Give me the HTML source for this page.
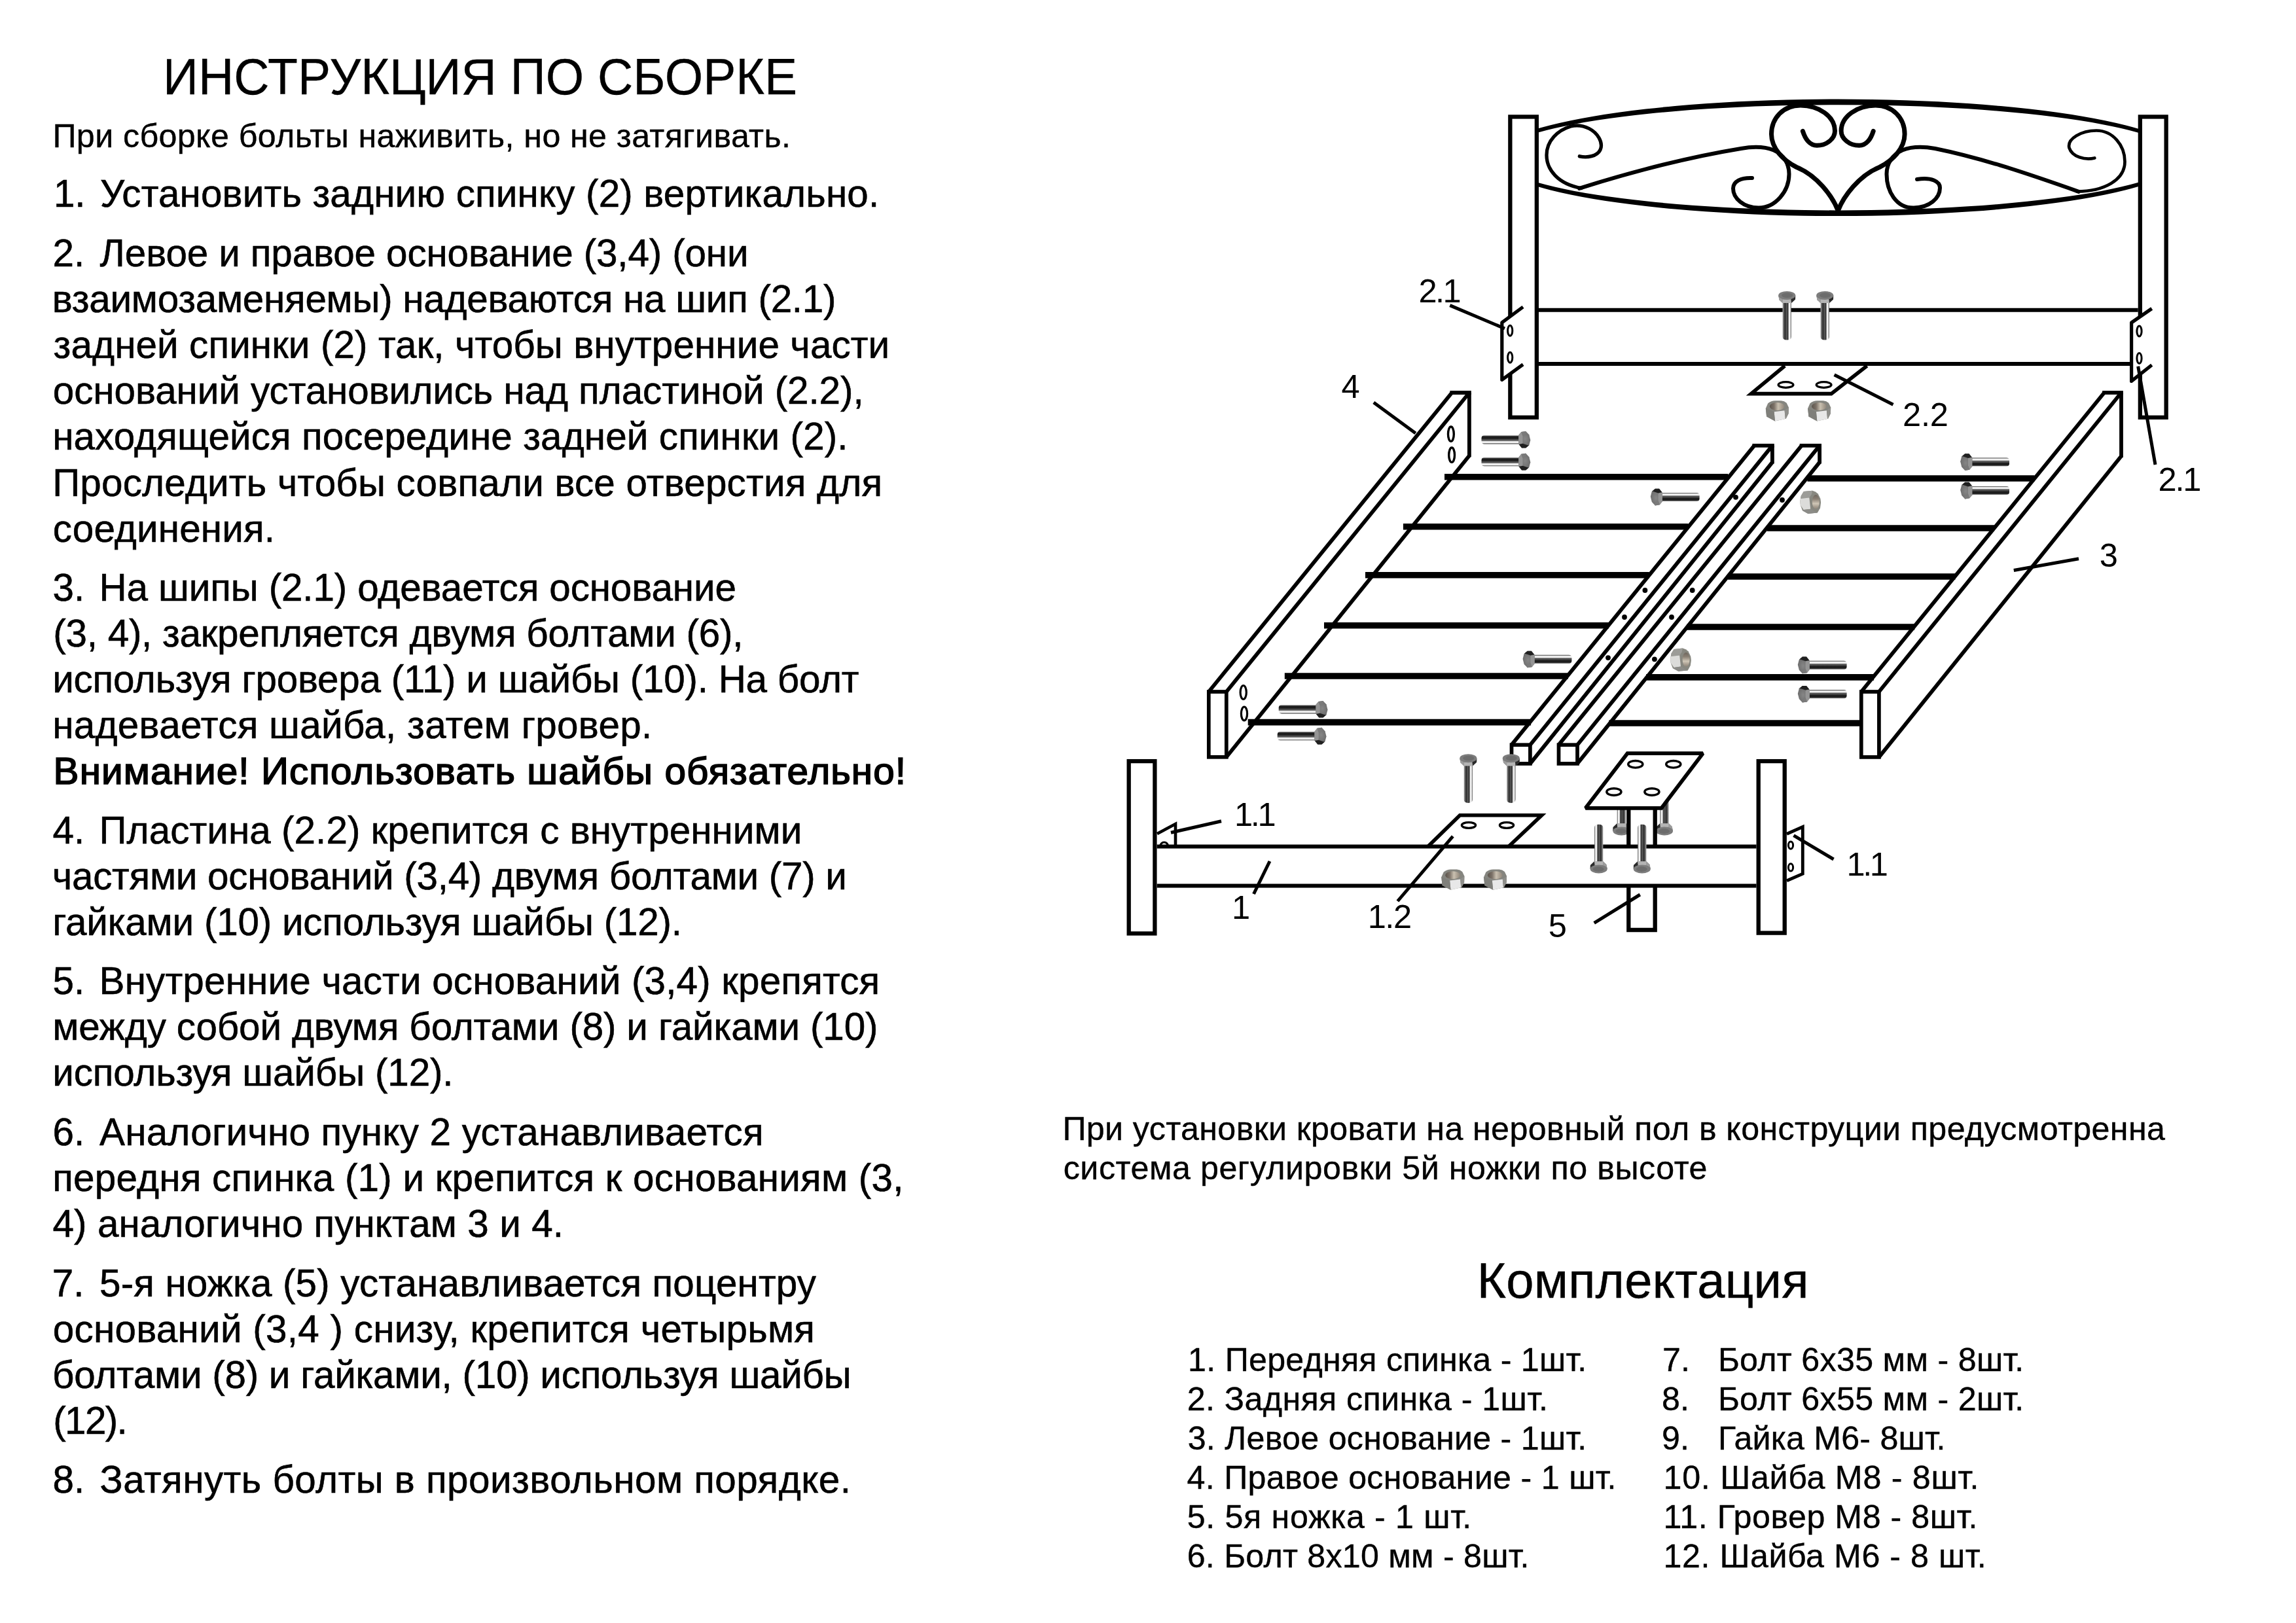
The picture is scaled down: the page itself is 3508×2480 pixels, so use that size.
<!DOCTYPE html>
<html lang="ru"><head><meta charset="utf-8"><title>Инструкция по сборке</title>
<style>
html,body{margin:0;padding:0;background:#fff;}
body{width:3508px;height:2480px;position:relative;overflow:hidden;font-family:"Liberation Sans",sans-serif;color:#000;}
.t{position:absolute;white-space:pre;line-height:1em;height:1em;transform-origin:0 84.66%;}
svg{position:absolute;left:0;top:0;}
</style></head><body>
<svg xmlns="http://www.w3.org/2000/svg" width="3508" height="2480" viewBox="0 0 3508 2480" stroke="#000" fill="none">
<defs>
<linearGradient id="gs" x1="0" y1="0" x2="0" y2="1">
<stop offset="0" stop-color="#a8a8a8"/><stop offset="0.07" stop-color="#5e5e5e"/><stop offset="0.14" stop-color="#1c1c1c"/><stop offset="0.38" stop-color="#1e1e1e"/><stop offset="0.46" stop-color="#4a4a4a"/><stop offset="0.58" stop-color="#525252"/><stop offset="0.65" stop-color="#909090"/><stop offset="0.72" stop-color="#f0f0f0"/><stop offset="0.86" stop-color="#f4f4f4"/><stop offset="0.93" stop-color="#8a8a8a"/><stop offset="1" stop-color="#333"/>
</linearGradient>
<linearGradient id="gv" x1="0" y1="0" x2="1" y2="0">
<stop offset="0" stop-color="#b0b0b0"/><stop offset="0.08" stop-color="#808080"/><stop offset="0.2" stop-color="#444"/><stop offset="0.3" stop-color="#2e2e2e"/><stop offset="0.45" stop-color="#5c5c5c"/><stop offset="0.57" stop-color="#2c2c2c"/><stop offset="0.66" stop-color="#707070"/><stop offset="0.74" stop-color="#f0f0f0"/><stop offset="0.87" stop-color="#f4f4f4"/><stop offset="0.93" stop-color="#999"/><stop offset="1" stop-color="#505050"/>
</linearGradient>
<radialGradient id="gh" cx="0.55" cy="0.45" r="0.6"><stop offset="0" stop-color="#868686"/><stop offset="1" stop-color="#666"/></radialGradient>
<g id="bh" stroke="none">
<path d="M4.5 -6.6H57.5V6.6H4.5Q0 6.6 0 2.2V-2.2Q0 -6.6 4.5 -6.6Z" fill="url(#gs)"/>
<path d="M56.7 -6.7L60.8 -11.85L67.7 -12.9L72.8 -7.5L74.8 0.65L72.8 8.4L67.7 12.7H61.6L56.7 6.7Z" fill="url(#gh)"/>
<path d="M56.7 -6.7L60.8 -11.85L63 -5.5V6L56.7 6.7Z" fill="#949494"/>
<path d="M60.8 -11.85L67.7 -12.9L69 -9.5L63 -5.5Z" fill="#7a7a7a"/>
<path d="M57.3 7.4L63 6L71.3 8.7L72.6 8.6L67.7 12.7H61.6Z" fill="#202020"/>
</g>
<g id="bv" stroke="none">
<path d="M-6.65 16.5H6.65V69.5Q6.65 74.6 0 74.6Q-6.65 74.6 -6.65 69.5Z" fill="url(#gv)"/>
<path d="M-13 6.6L-11.7 13.3L-6.8 18H6.8L12.8 12.4L13 6.6Z" fill="#8a8a8a"/>
<path d="M-6.6 12.6L6.2 12.1L6.8 18H-6.8Z" fill="#b4b4b4"/>
<path d="M-13 6.6L-6.6 12.6L-6.8 18L-11.7 13.3Z" fill="#9c9c9c"/>
<path d="M13 6.2L6.2 12.1L6.8 18L12.8 12.4Z" fill="#2a2a2a"/>
<ellipse cx="0" cy="6.4" rx="13" ry="6.5" fill="#7c7c7c"/>
<ellipse cx="0.5" cy="6.2" rx="8.5" ry="3.8" fill="#6c6c6c"/>
</g>
<linearGradient id="gn" x1="0" y1="0" x2="1" y2="0"><stop offset="0" stop-color="#5c544c"/><stop offset="0.3" stop-color="#7c7268"/><stop offset="0.58" stop-color="#c9c0b0"/><stop offset="0.8" stop-color="#aaa092"/><stop offset="1" stop-color="#8e857a"/></linearGradient>
<g id="nu" stroke="none">
<path d="M-17.5 -4L-14.1 -11.8Q-9 -15.7 -3.3 -15.7H6.1Q11 -15.2 14.4 -12.3L17.6 -5.5L17.3 3.9L13.4 11.7L-3.3 15.4L-16.2 8.6Z" fill="#85857f"/>
<ellipse cx="-0.2" cy="-7.1" rx="11.4" ry="6" fill="url(#gn)"/>
<path d="M-4.7 1.3L11.3 -0.8L12.5 11.9L-3.3 15.4Z" fill="#e8e8e8"/>
<path d="M-17.5 -4L-4.7 1.3L-3.3 15.4L-16.2 8.6Z" fill="#7f7f7a"/>
<path d="M11.3 -0.8L17.6 -5.5L17.3 3.9L13.4 11.7L12.5 11.9Z" fill="#8f8f8b"/>
</g>
<linearGradient id="gn2" x1="0" y1="0" x2="0" y2="1"><stop offset="0" stop-color="#6e655c"/><stop offset="0.3" stop-color="#8a8074"/><stop offset="0.62" stop-color="#cfc6b6"/><stop offset="0.85" stop-color="#a59b8d"/><stop offset="1" stop-color="#8e857a"/></linearGradient>
<g id="ns" stroke="none">
<path d="M-15.9 -1.5L-14.4 -9.6L-10.4 -16.3L3 -17.6Q8 -16.5 11.5 -12.9L15.2 -5.2L15.9 0.7L14.8 8.9L10.7 16.3L-3.7 17.6L-12.2 12.9L-15.3 4.8Z" fill="#87877f"/>
<path d="M-14.4 -9.6L-10.4 -16.3L3 -17.6L1.6 -12L-1.8 -6.7L-15.2 -5.2Z" fill="#9c9c98"/>
<path d="M-15.2 -5.2L-1.8 -6.7L0 10.4L-10.4 11.8L-15.3 4.8L-15.9 -1.5Z" fill="#dcdcda"/>
<path d="M-10.4 11.8L0 10.4L10.7 16.3L-3.7 17.6L-12.2 12.9Z" fill="#8c8c88"/>
<ellipse cx="8.1" cy="-0.4" rx="5.5" ry="10.9" fill="url(#gn2)"/>
</g>
<clipPath id="hbclip"><rect x="2350" y="100" width="918" height="300"/></clipPath>
</defs>
<g id="headboard">
<path d="M2280 240.8A528 89.3 0 1 0 3336 240.8A528 89.3 0 1 0 2280 240.8ZM2287.5 240.8A520.5 80.6 0 1 0 3328.5 240.8A520.5 80.6 0 1 0 2287.5 240.8Z" fill="#000" fill-rule="evenodd" stroke="none" clip-path="url(#hbclip)"/>
<path d="M2413.3 238.8C2425 241.5 2440 239 2445 229C2450 218 2441 203 2428 196.5C2419 192 2410 190.5 2400 193C2380 199 2363 215 2363 237C2363 259 2380 281 2416 287.5" stroke-width="5.3" fill="none" stroke-linecap="round"/>
<path d="M2413 287.8C2495 262 2578 240.5 2660 227C2675 224.3 2695 223.5 2710 229.5C2725 236 2733.5 250 2733.5 266C2733.5 292 2713 317.5 2687 317.5C2664 317.5 2648 303 2648 288C2648 277 2660 271.3 2677 272" stroke-width="6.0" fill="none" stroke-linecap="round"/>
<path d="M2808.3 322C2800 300 2776 268 2745 255.5C2725 245.5 2706.5 227 2706.5 205C2706.5 180 2725 161 2751 161C2779 161 2803.5 178 2803.5 200C2803.5 212 2791 222.3 2776 222.3C2765 222.3 2758 212 2754.4 200.4" stroke-width="7.0" fill="none" stroke-linecap="round"/>
<path d="M 2808.3 322 C 2816.6 300 2840.6 268 2871.6 255.5 C 2891.6 245.5 2910.1 227 2910.1 205 C 2910.1 180 2891.6 161 2865.6 161 C 2837.6 161 2813.1 178 2813.1 200 C 2813.1 212 2825.6 222.3 2840.6 222.3 C 2851.6 222.3 2858.6 212 2862.2 200.4" stroke-width="7.0" fill="none" stroke-linecap="round"/>
<path d="M3176 292.8C3100 266 3030 242 2956.6 227C2941.6 224.3 2921.6 223.5 2906.6 229.5C2891.6 236 2882.5 250 2882.5 266C2882.5 292 2897 318 2924 317.5C2948 317 2964 303 2964 287C2964 277 2951 270.5 2929 274" stroke-width="6.0" fill="none" stroke-linecap="round"/>
<path d="M3200.3 241.5C3186 245 3166 240 3161.5 226C3158 212 3180 199.5 3203 199.5C3228 199.5 3246.5 222 3246.5 247C3246.5 275 3215 292.5 3173 292.5" stroke-width="4.7" fill="none" stroke-linecap="round"/>
<rect x="2307.35" y="178.45" width="40.5" height="459.4" stroke-width="6.3" fill="#fff"/>
<rect x="3269.85" y="178.45" width="39.8" height="459.4" stroke-width="6.3" fill="#fff"/>
<polygon points="2327,469 2294.8,492.8 2294.8,580.3 2327,556.8" fill="#fff" stroke-width="0" stroke-linejoin="miter" stroke="none"/>
<polyline points="2327,469 2294.8,492.8 2294.8,580.3 2327,556.8" fill="none" stroke-width="5.2" stroke-linejoin="round" />
<ellipse cx="2307.2" cy="505.3" rx="3.6" ry="8" fill="none" stroke-width="3.0"/>
<ellipse cx="2307.2" cy="546.3" rx="3.6" ry="8" fill="none" stroke-width="3.0"/>
<polygon points="3287.7,471.5 3256.6,493 3256.6,582.4 3287.7,557.8" fill="#fff" stroke-width="0" stroke-linejoin="miter" stroke="none"/>
<polyline points="3287.7,471.5 3256.6,493 3256.6,582.4 3287.7,557.8" fill="none" stroke-width="5.2" stroke-linejoin="round" />
<ellipse cx="3268.5" cy="506" rx="3.6" ry="8" fill="none" stroke-width="3.0"/>
<ellipse cx="3268.5" cy="547.4" rx="3.6" ry="8" fill="none" stroke-width="3.0"/>
<polyline points="2727,559 2675.5,601.6 2798,601.6 2852.5,559" fill="#fff" stroke-width="5.6" stroke-linejoin="miter" />
<ellipse cx="2728.5" cy="588" rx="11.4" ry="4.3" fill="none" stroke-width="3.3"/>
<ellipse cx="2786.6" cy="588" rx="11.4" ry="4.3" fill="none" stroke-width="3.3"/>
<line x1="2351" y1="473.8" x2="3266.7" y2="473.8" stroke-width="6.0" stroke-linecap="butt" />
<line x1="2351" y1="556" x2="3254" y2="556" stroke-width="6.2" stroke-linecap="butt" />
</g>
<line x1="2215.3" y1="466.6" x2="2299" y2="502" stroke-width="5.0" stroke-linecap="butt" />
<line x1="2802.6" y1="572.8" x2="2892.5" y2="618.2" stroke-width="5.0" stroke-linecap="butt" />
<line x1="3266.7" y1="559.7" x2="3293" y2="710" stroke-width="5.0" stroke-linecap="butt" />
<line x1="2098.8" y1="614.9" x2="2162.8" y2="662" stroke-width="5.0" stroke-linecap="butt" />
<line x1="3176" y1="853.8" x2="3076.8" y2="871.5" stroke-width="5.0" stroke-linecap="butt" />
<line x1="2207" y1="728.8" x2="2640.4" y2="728.8" stroke-width="9.6" stroke-linecap="butt" />
<line x1="2143.9" y1="804.7" x2="2579.4" y2="804.7" stroke-width="9.6" stroke-linecap="butt" />
<line x1="2086" y1="878.8" x2="2519.8" y2="878.8" stroke-width="9.6" stroke-linecap="butt" />
<line x1="2023" y1="955.8" x2="2457.9" y2="955.8" stroke-width="9.6" stroke-linecap="butt" />
<line x1="1962.8" y1="1033" x2="2395.8" y2="1033" stroke-width="9.6" stroke-linecap="butt" />
<line x1="1906.7" y1="1103.6" x2="2339.1" y2="1103.6" stroke-width="9.6" stroke-linecap="butt" />
<line x1="2761.4" y1="731" x2="3108.5" y2="731" stroke-width="9.6" stroke-linecap="butt" />
<line x1="2699.8" y1="807" x2="3047.1" y2="807" stroke-width="9.6" stroke-linecap="butt" />
<line x1="2639.9" y1="881" x2="2987.4" y2="881" stroke-width="9.6" stroke-linecap="butt" />
<line x1="2577.5" y1="958" x2="2925.2" y2="958" stroke-width="9.6" stroke-linecap="butt" />
<line x1="2515.2" y1="1034.9" x2="2863.1" y2="1034.9" stroke-width="9.6" stroke-linecap="butt" />
<line x1="2458.4" y1="1105" x2="2843" y2="1105" stroke-width="9.6" stroke-linecap="butt" />
<line x1="2215.4" y1="600" x2="2247.8" y2="600" stroke-width="5.8" stroke-linecap="butt" /><line x1="2218.3" y1="600" x2="1846.8" y2="1057" stroke-width="5.8" stroke-linecap="butt" /><line x1="2244.9" y1="600" x2="1873.8" y2="1057" stroke-width="5.8" stroke-linecap="butt" /><line x1="2244.9" y1="696.3" x2="1873.8" y2="1156.8" stroke-width="5.8" stroke-linecap="butt" /><line x1="2244.9" y1="600" x2="2244.9" y2="698.3" stroke-width="5.8" stroke-linecap="butt" /><rect x="1846.8" y="1057" width="27" height="99.8" stroke-width="5.7" fill="#fff"/>
<line x1="3212.1" y1="600" x2="3243.9" y2="600" stroke-width="5.8" stroke-linecap="butt" /><line x1="3215" y1="600" x2="2843.8" y2="1057" stroke-width="5.8" stroke-linecap="butt" /><line x1="3241" y1="600" x2="2870.9" y2="1057" stroke-width="5.8" stroke-linecap="butt" /><line x1="3241" y1="697" x2="2870.9" y2="1156.9" stroke-width="5.8" stroke-linecap="butt" /><line x1="3241" y1="600" x2="3241" y2="699" stroke-width="5.8" stroke-linecap="butt" /><rect x="2843.8" y="1057" width="27.1" height="99.9" stroke-width="5.7" fill="#fff"/>
<line x1="2677.4" y1="680.9" x2="2710.8" y2="680.9" stroke-width="5.8" stroke-linecap="butt" /><line x1="2680.3" y1="680.9" x2="2309.5" y2="1138.2" stroke-width="5.8" stroke-linecap="butt" /><line x1="2707.9" y1="680.9" x2="2337.9" y2="1138.2" stroke-width="5.8" stroke-linecap="butt" /><line x1="2707.9" y1="706.4" x2="2337.9" y2="1166.9" stroke-width="5.8" stroke-linecap="butt" /><line x1="2707.9" y1="680.9" x2="2707.9" y2="708.4" stroke-width="5.8" stroke-linecap="butt" /><rect x="2309.5" y="1138.2" width="28.4" height="28.7" stroke-width="5.7" fill="#fff"/>
<line x1="2749.7" y1="680.9" x2="2783" y2="680.9" stroke-width="5.8" stroke-linecap="butt" /><line x1="2752.6" y1="680.9" x2="2381.5" y2="1138.2" stroke-width="5.8" stroke-linecap="butt" /><line x1="2780.1" y1="680.9" x2="2410" y2="1138.2" stroke-width="5.8" stroke-linecap="butt" /><line x1="2780.1" y1="706.4" x2="2410" y2="1166.9" stroke-width="5.8" stroke-linecap="butt" /><line x1="2780.1" y1="680.9" x2="2780.1" y2="708.4" stroke-width="5.8" stroke-linecap="butt" /><rect x="2381.5" y="1138.2" width="28.5" height="28.7" stroke-width="5.7" fill="#fff"/>
<ellipse cx="2216.9" cy="663.2" rx="4.4" ry="11.2" fill="none" stroke-width="3.4"/>
<ellipse cx="2218.1" cy="695.2" rx="4.4" ry="11.2" fill="none" stroke-width="3.4"/>
<ellipse cx="1899.7" cy="1058" rx="4.6" ry="10.5" fill="none" stroke-width="3.2"/>
<ellipse cx="1901" cy="1090.5" rx="4.6" ry="10.5" fill="none" stroke-width="3.2"/>
<circle cx="2652" cy="759.8" r="3.9" fill="#000" stroke="none"/>
<circle cx="2723" cy="764" r="3.9" fill="#000" stroke="none"/>
<circle cx="2513.4" cy="902" r="3.9" fill="#000" stroke="none"/>
<circle cx="2585.7" cy="902" r="3.9" fill="#000" stroke="none"/>
<circle cx="2482" cy="943" r="3.9" fill="#000" stroke="none"/>
<circle cx="2554" cy="943" r="3.9" fill="#000" stroke="none"/>
<circle cx="2457" cy="1005.1" r="3.9" fill="#000" stroke="none"/>
<circle cx="2527.9" cy="1007.3" r="3.9" fill="#000" stroke="none"/>
<polyline points="2181.7,1293.5 2230.5,1245.8 2355.5,1245.8 2305,1293.5" fill="#fff" stroke-width="5.6" stroke-linejoin="miter" />
<ellipse cx="2244" cy="1261" rx="10.6" ry="4.4" fill="none" stroke-width="3.3"/>
<ellipse cx="2302" cy="1261" rx="10.6" ry="4.4" fill="none" stroke-width="3.3"/>
<line x1="1767.7" y1="1293.5" x2="2683.5" y2="1293.5" stroke-width="6.0" stroke-linecap="butt" />
<line x1="1767.7" y1="1353.4" x2="2683.5" y2="1353.4" stroke-width="6.0" stroke-linecap="butt" />
<rect x="1724.7" y="1163.1" width="39.7" height="263.3" stroke-width="6.3" fill="#fff"/>
<rect x="2686.7" y="1163.1" width="40" height="262.5" stroke-width="6.3" fill="#fff"/>
<polyline points="1768,1274 1796,1259 1796,1293" fill="none" stroke-width="4.6" stroke-linejoin="miter" />
<path d="M1772.7 1293A6 6 0 0 1 1784.7 1293" stroke-width="3.2"/>
<polyline points="2730,1274.2 2754.3,1263.5 2754.3,1335.2 2730,1345.8" fill="#fff" stroke-width="4.8" stroke-linejoin="miter" />
<ellipse cx="2736" cy="1291.6" rx="3.6" ry="5.6" fill="none" stroke-width="3.0"/>
<ellipse cx="2736" cy="1325.4" rx="3.6" ry="5.6" fill="none" stroke-width="3.0"/>
<use href="#bv" transform="translate(2477.4 1276.3) scale(-1 -1)"/>
<use href="#bv" transform="translate(2543 1276.3) scale(-1 -1)"/>
<polygon points="2486.5,1151.2 2601.8,1151.2 2538.5,1234.8 2422.5,1234.8" fill="#fff" stroke-width="5.7" stroke-linejoin="miter" stroke-miterlimit="2"/>
<ellipse cx="2498.8" cy="1167.8" rx="11.1" ry="5.3" fill="none" stroke-width="3.4"/>
<ellipse cx="2556.8" cy="1167.8" rx="11.1" ry="5.3" fill="none" stroke-width="3.4"/>
<ellipse cx="2465.9" cy="1210" rx="11.1" ry="5.3" fill="none" stroke-width="3.4"/>
<ellipse cx="2523.9" cy="1210" rx="11.1" ry="5.3" fill="none" stroke-width="3.4"/>
<line x1="2488.3" y1="1236" x2="2488.3" y2="1293.5" stroke-width="6.3" stroke-linecap="butt" />
<line x1="2528.7" y1="1236" x2="2528.7" y2="1293.5" stroke-width="6.3" stroke-linecap="butt" />
<polyline points="2488.3,1353.4 2488.3,1421 2528.7,1421 2528.7,1353.4" fill="none" stroke-width="6.3" stroke-linejoin="miter" />
<line x1="1866" y1="1254.8" x2="1789" y2="1272.3" stroke-width="5.0" stroke-linecap="butt" />
<line x1="2740.5" y1="1276.6" x2="2801.5" y2="1313" stroke-width="5.0" stroke-linecap="butt" />
<line x1="1940" y1="1316" x2="1915.5" y2="1366" stroke-width="5.0" stroke-linecap="butt" />
<line x1="2219.8" y1="1277.8" x2="2135.4" y2="1377" stroke-width="5.0" stroke-linecap="butt" />
<line x1="2505.8" y1="1367" x2="2435.7" y2="1410.4" stroke-width="5.0" stroke-linecap="butt" />
<use href="#bh" transform="translate(2263.5 671.8)"/>
<use href="#bh" transform="translate(2263.5 705.7)"/>
<use href="#bh" transform="translate(1953.7 1083.8)"/>
<use href="#bh" transform="translate(1951.7 1124.7)"/>
<use href="#bh" transform="translate(2596.6 759.5) scale(-1 -1)"/>
<use href="#bh" transform="translate(3070 706) scale(-1 -1)"/>
<use href="#bh" transform="translate(3070 749.5) scale(-1 -1)"/>
<use href="#bh" transform="translate(2401.4 1007.4) scale(-1 -1)"/>
<use href="#bh" transform="translate(2821.6 1016.3) scale(-1 -1)"/>
<use href="#bh" transform="translate(2821.6 1060.6) scale(-1 -1)"/>
<use href="#bv" transform="translate(2730.2 445)"/>
<use href="#bv" transform="translate(2788.2 445)"/>
<use href="#bv" transform="translate(2243.3 1152.3)"/>
<use href="#bv" transform="translate(2308.8 1152.3)"/>
<use href="#bv" transform="translate(2442.7 1334.3) scale(-1 -1)"/>
<use href="#bv" transform="translate(2508.8 1334.3) scale(-1 -1)"/>
<use href="#nu" transform="translate(2715.3 628)"/>
<use href="#nu" transform="translate(2779.6 628)"/>
<use href="#nu" transform="translate(2219.8 1344.3)"/>
<use href="#nu" transform="translate(2284.5 1344.3)"/>
<use href="#ns" transform="translate(2766.2 767.3)"/>
<use href="#ns" transform="translate(2568 1008.2)"/>
</svg>
<div class="t" style="left:249.10px;top:81.42px;font-size:75.1px;letter-spacing:0.028px;-webkit-text-stroke:0.3px #000;transform:scaleY(1.038);">ИНСТРУКЦИЯ ПО СБОРКЕ</div>
<div class="t" style="left:80.40px;top:183.20px;font-size:50.2px;letter-spacing:0.388px;-webkit-text-stroke:0.4px #000;">При сборке больты наживить, но не затягивать.</div>
<div class="t" style="left:81.90px;top:267.16px;font-size:58.4px;letter-spacing:0.000px;-webkit-text-stroke:0.6px #000;">1.</div>
<div class="t" style="left:153.00px;top:267.16px;font-size:58.4px;letter-spacing:0.156px;-webkit-text-stroke:0.6px #000;">Установить заднию спинку (2) вертикально.</div>
<div class="t" style="left:80.50px;top:358.26px;font-size:58.4px;letter-spacing:0.000px;-webkit-text-stroke:0.6px #000;">2.</div>
<div class="t" style="left:152.60px;top:358.26px;font-size:58.4px;letter-spacing:-0.121px;-webkit-text-stroke:0.6px #000;">Левое и правое основание (3,4) (они</div>
<div class="t" style="left:79.70px;top:428.31px;font-size:58.4px;letter-spacing:-0.268px;-webkit-text-stroke:0.6px #000;">взаимозаменяемы) надеваются на шип (2.1)</div>
<div class="t" style="left:81.50px;top:498.36px;font-size:58.4px;letter-spacing:0.105px;-webkit-text-stroke:0.6px #000;">задней спинки (2) так, чтобы внутренние части</div>
<div class="t" style="left:80.80px;top:568.41px;font-size:58.4px;letter-spacing:-0.068px;-webkit-text-stroke:0.6px #000;">оснований установились над пластиной (2.2),</div>
<div class="t" style="left:80.20px;top:638.46px;font-size:58.4px;letter-spacing:0.102px;-webkit-text-stroke:0.6px #000;">находящейся посередине задней спинки (2).</div>
<div class="t" style="left:80.20px;top:708.51px;font-size:58.4px;letter-spacing:0.191px;-webkit-text-stroke:0.6px #000;">Проследить чтобы совпали все отверстия для</div>
<div class="t" style="left:80.80px;top:778.56px;font-size:58.4px;letter-spacing:0.160px;-webkit-text-stroke:0.6px #000;">соединения.</div>
<div class="t" style="left:80.50px;top:869.06px;font-size:58.4px;letter-spacing:0.000px;-webkit-text-stroke:0.6px #000;">3.</div>
<div class="t" style="left:151.50px;top:869.06px;font-size:58.4px;letter-spacing:-0.120px;-webkit-text-stroke:0.6px #000;">На шипы (2.1) одевается основание</div>
<div class="t" style="left:81.30px;top:939.11px;font-size:58.4px;letter-spacing:-0.249px;-webkit-text-stroke:0.6px #000;">(3, 4), закрепляется двумя болтами (6),</div>
<div class="t" style="left:80.20px;top:1009.16px;font-size:58.4px;letter-spacing:-0.238px;-webkit-text-stroke:0.6px #000;">используя гровера (11) и шайбы (10). На болт</div>
<div class="t" style="left:80.20px;top:1079.21px;font-size:58.4px;letter-spacing:0.288px;-webkit-text-stroke:0.6px #000;">надевается шайба, затем гровер.</div>
<div class="t" style="left:81.60px;top:1149.26px;font-size:58.4px;letter-spacing:1.109px;-webkit-text-stroke:1.7px #000;transform:scaleY(0.975);">Внимание! Использовать шайбы обязательно!</div>
<div class="t" style="left:80.50px;top:1239.76px;font-size:58.4px;letter-spacing:0.000px;-webkit-text-stroke:0.6px #000;">4.</div>
<div class="t" style="left:151.50px;top:1239.76px;font-size:58.4px;letter-spacing:0.062px;-webkit-text-stroke:0.6px #000;">Пластина (2.2) крепится с внутренними</div>
<div class="t" style="left:79.80px;top:1309.81px;font-size:58.4px;letter-spacing:-0.269px;-webkit-text-stroke:0.6px #000;">частями оснований (3,4) двумя болтами (7) и</div>
<div class="t" style="left:80.20px;top:1379.86px;font-size:58.4px;letter-spacing:-0.208px;-webkit-text-stroke:0.6px #000;">гайками (10) используя шайбы (12).</div>
<div class="t" style="left:80.50px;top:1470.36px;font-size:58.4px;letter-spacing:0.000px;-webkit-text-stroke:0.6px #000;">5.</div>
<div class="t" style="left:151.50px;top:1470.36px;font-size:58.4px;letter-spacing:0.183px;-webkit-text-stroke:0.6px #000;">Внутренние части оснований (3,4) крепятся</div>
<div class="t" style="left:80.20px;top:1540.41px;font-size:58.4px;letter-spacing:-0.153px;-webkit-text-stroke:0.6px #000;">между собой двумя болтами (8) и гайками (10)</div>
<div class="t" style="left:80.20px;top:1610.46px;font-size:58.4px;letter-spacing:-0.146px;-webkit-text-stroke:0.6px #000;">используя шайбы (12).</div>
<div class="t" style="left:80.50px;top:1700.96px;font-size:58.4px;letter-spacing:0.000px;-webkit-text-stroke:0.6px #000;">6.</div>
<div class="t" style="left:152.00px;top:1700.96px;font-size:58.4px;letter-spacing:0.222px;-webkit-text-stroke:0.6px #000;">Аналогично пунку 2 устанавливается</div>
<div class="t" style="left:80.20px;top:1771.01px;font-size:58.4px;letter-spacing:0.241px;-webkit-text-stroke:0.6px #000;">передня спинка (1) и крепится к основаниям (3,</div>
<div class="t" style="left:80.50px;top:1841.06px;font-size:58.4px;letter-spacing:0.085px;-webkit-text-stroke:0.6px #000;">4) аналогично пунктам 3 и 4.</div>
<div class="t" style="left:79.80px;top:1931.56px;font-size:58.4px;letter-spacing:0.000px;-webkit-text-stroke:0.6px #000;">7.</div>
<div class="t" style="left:152.00px;top:1931.56px;font-size:58.4px;letter-spacing:0.156px;-webkit-text-stroke:0.6px #000;">5-я ножка (5) устанавливается поцентру</div>
<div class="t" style="left:80.80px;top:2001.61px;font-size:58.4px;letter-spacing:0.263px;-webkit-text-stroke:0.6px #000;">оснований (3,4 ) снизу, крепится четырьмя</div>
<div class="t" style="left:80.00px;top:2071.66px;font-size:58.4px;letter-spacing:-0.251px;-webkit-text-stroke:0.6px #000;">болтами (8) и гайками, (10) используя шайбы</div>
<div class="t" style="left:81.30px;top:2141.71px;font-size:58.4px;letter-spacing:-1.659px;-webkit-text-stroke:0.6px #000;">(12).</div>
<div class="t" style="left:80.50px;top:2232.36px;font-size:58.4px;letter-spacing:0.000px;-webkit-text-stroke:0.6px #000;">8.</div>
<div class="t" style="left:152.50px;top:2232.36px;font-size:58.4px;letter-spacing:0.470px;-webkit-text-stroke:0.6px #000;">Затянуть болты в произвольном порядке.</div>
<div class="t" style="left:1623.40px;top:1700.20px;font-size:50.2px;letter-spacing:0.371px;-webkit-text-stroke:0.4px #000;">При установки кровати на неровный пол в конструции предусмотренна</div>
<div class="t" style="left:1624.70px;top:1760.30px;font-size:50.2px;letter-spacing:0.541px;-webkit-text-stroke:0.4px #000;">система регулировки 5й ножки по высоте</div>
<div class="t" style="left:2256.70px;top:1918.66px;font-size:76px;letter-spacing:0.240px;-webkit-text-stroke:0.4px #000;">Комплектация</div>
<div class="t" style="left:1815.10px;top:2053.10px;font-size:50.2px;letter-spacing:0.255px;-webkit-text-stroke:0.4px #000;">1. Передняя спинка - 1шт.</div>
<div class="t" style="left:1813.70px;top:2113.10px;font-size:50.2px;letter-spacing:0.399px;-webkit-text-stroke:0.4px #000;">2. Задняя спинка - 1шт.</div>
<div class="t" style="left:1814.70px;top:2173.15px;font-size:50.2px;letter-spacing:0.270px;-webkit-text-stroke:0.4px #000;">3. Левое основание - 1шт.</div>
<div class="t" style="left:1813.50px;top:2233.15px;font-size:50.2px;letter-spacing:0.307px;-webkit-text-stroke:0.4px #000;">4. Правое основание - 1 шт.</div>
<div class="t" style="left:1813.70px;top:2293.20px;font-size:50.2px;letter-spacing:0.668px;-webkit-text-stroke:0.4px #000;">5. 5я ножка - 1 шт.</div>
<div class="t" style="left:1813.70px;top:2353.20px;font-size:50.2px;letter-spacing:0.236px;-webkit-text-stroke:0.4px #000;">6. Болт 8х10 мм - 8шт.</div>
<div class="t" style="left:2540.00px;top:2053.10px;font-size:50.2px;letter-spacing:0.000px;-webkit-text-stroke:0.4px #000;">7.</div>
<div class="t" style="left:2624.90px;top:2053.10px;font-size:50.2px;letter-spacing:0.298px;-webkit-text-stroke:0.4px #000;">Болт 6х35 мм - 8шт.</div>
<div class="t" style="left:2539.10px;top:2113.10px;font-size:50.2px;letter-spacing:0.000px;-webkit-text-stroke:0.4px #000;">8.</div>
<div class="t" style="left:2624.90px;top:2113.10px;font-size:50.2px;letter-spacing:0.298px;-webkit-text-stroke:0.4px #000;">Болт 6х55 мм - 2шт.</div>
<div class="t" style="left:2539.10px;top:2173.15px;font-size:50.2px;letter-spacing:0.000px;-webkit-text-stroke:0.4px #000;">9.</div>
<div class="t" style="left:2624.90px;top:2173.15px;font-size:50.2px;letter-spacing:0.193px;-webkit-text-stroke:0.4px #000;">Гайка М6- 8шт.</div>
<div class="t" style="left:2541.60px;top:2233.15px;font-size:50.2px;letter-spacing:0.716px;-webkit-text-stroke:0.4px #000;">10. Шайба М8 - 8шт.</div>
<div class="t" style="left:2541.60px;top:2293.20px;font-size:50.2px;letter-spacing:0.519px;-webkit-text-stroke:0.4px #000;">11. Гровер М8 - 8шт.</div>
<div class="t" style="left:2541.60px;top:2353.20px;font-size:50.2px;letter-spacing:0.534px;-webkit-text-stroke:0.4px #000;">12. Шайба М6 - 8 шт.</div>
<div class="t" style="left:2167.60px;top:419.96px;font-size:50.6px;letter-spacing:-2.697px;">2.1</div>
<div class="t" style="left:2906.90px;top:608.56px;font-size:50.6px;letter-spacing:-0.147px;">2.2</div>
<div class="t" style="left:3297.50px;top:707.86px;font-size:50.6px;letter-spacing:-2.247px;">2.1</div>
<div class="t" style="left:2049.60px;top:566.06px;font-size:50.6px;letter-spacing:0.000px;">4</div>
<div class="t" style="left:3207.80px;top:824.06px;font-size:50.6px;letter-spacing:0.000px;">3</div>
<div class="t" style="left:1886.00px;top:1219.86px;font-size:50.6px;letter-spacing:-3.397px;">1.1</div>
<div class="t" style="left:2821.40px;top:1295.76px;font-size:50.6px;letter-spacing:-3.397px;">1.1</div>
<div class="t" style="left:1882.00px;top:1361.86px;font-size:50.6px;letter-spacing:0.000px;">1</div>
<div class="t" style="left:2089.70px;top:1376.46px;font-size:50.6px;letter-spacing:-1.497px;">1.2</div>
<div class="t" style="left:2365.70px;top:1390.46px;font-size:50.6px;letter-spacing:0.000px;">5</div>
</body></html>
